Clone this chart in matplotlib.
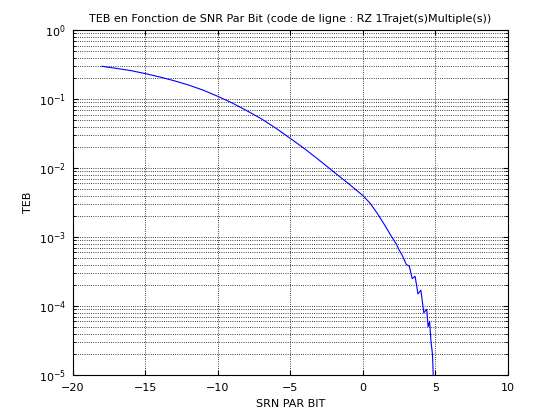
import numpy as np
import matplotlib.pyplot as plt

snr = [-18, -17, -16, -15, -14, -13, -12, -11, -10, -9, -8, -7, -6, -5, -4, -3, -2, -1, 0,
       0.5, 1, 1.5, 2, 2.3, 2.5, 2.7, 3, 3.2, 3.4, 3.6, 3.8, 4.0, 4.2, 4.4, 4.5, 4.6, 4.7, 4.8, 4.85]
teb = [0.30, 0.28, 0.26, 0.235, 0.21, 0.185, 0.16, 0.135, 0.11, 0.088, 0.068, 0.052, 0.038,
       0.027, 0.019, 0.013, 0.0088, 0.006, 0.0040, 0.0031, 0.0022, 0.0015, 0.001, 0.0008,
       0.00065, 0.00055, 0.0004, 0.00038, 0.00025, 0.00027, 0.00015, 0.00017, 0.00008,
       0.00009, 0.00005, 0.00006, 0.00003, 0.00002, 0.00001]

fig, ax = plt.subplots(figsize=(5.6, 4.2), dpi=100)
fig.subplots_adjust(left=0.13, right=0.907, top=0.928, bottom=0.107)
ax.semilogy(snr, teb, color='blue', linewidth=0.8)
ax.set_xlim(-20, 10)
ax.set_ylim(1e-5, 1)
ax.set_xticks(np.arange(-20, 11, 5))
ax.grid(True, which='major', linestyle=':', color='black', linewidth=0.6)
ax.grid(True, which='minor', axis='y', linestyle=':', color='black', linewidth=0.6)
ax.tick_params(labelsize=8, direction='in', which='both', top=True, right=True)
ax.tick_params(axis='x', pad=6)
ax.tick_params(axis='y', pad=5)
ax.set_xlabel('SRN PAR BIT', fontsize=8)
ax.set_ylabel('TEB', fontsize=8)
ax.set_title('TEB en Fonction de SNR Par Bit (code de ligne : RZ 1Trajet(s)Multiple(s))', fontsize=8)
fig.savefig('out.png')
